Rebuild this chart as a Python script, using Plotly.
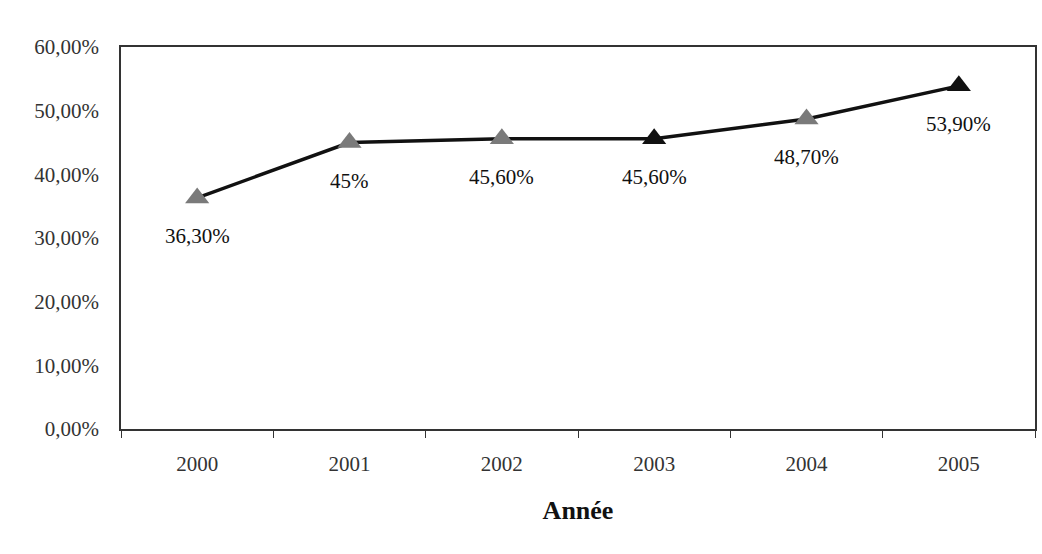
import plotly.graph_objects as go

years = ["2000", "2001", "2002", "2003", "2004", "2005"]
values = [36.3, 45.0, 45.6, 45.6, 48.7, 53.9]
labels = ["36,30%", "45%", "45,60%", "45,60%", "48,70%", "53,90%"]
marker_colors = ["#7a7a7a", "#7a7a7a", "#7a7a7a", "#111111", "#7a7a7a", "#111111"]
y_ticks = [0, 10, 20, 30, 40, 50, 60]
y_tick_labels = ["0,00%", "10,00%", "20,00%", "30,00%", "40,00%", "50,00%", "60,00%"]

serif = "Liberation Serif"

fig = go.Figure()
fig.add_trace(go.Scatter(
    x=years, y=values, mode="lines+markers",
    line=dict(color="#111111", width=3.5),
    marker=dict(symbol="triangle-up", size=21, color=marker_colors),
    showlegend=False, hoverinfo="skip",
))

for i, (v, lab) in enumerate(zip(values, labels)):
    fig.add_annotation(x=i, y=v, xref="x", yref="y", text=lab, showarrow=False, yshift=-38,
                       font=dict(family=serif, size=21, color="#111111"))

fig.update_layout(
    width=1042, height=554,
    margin=dict(l=121, r=5, t=47, b=125),
    paper_bgcolor="white", plot_bgcolor="white",
    font=dict(family=serif, color="#222222"),
)
fig.update_xaxes(
    type="category", range=[-0.5, 5.5], tickson="boundaries",
    ticks="outside", ticklen=7, tickcolor="#333333",
    showline=True, linecolor="#333333", linewidth=2, mirror=True,
    showgrid=False, tickfont=dict(family=serif, size=21, color="#333333"),
    ticklabelstandoff=15,
    title=dict(text="<b>Année</b>", font=dict(family=serif, size=26, color="#111111"), standoff=26),
)
fig.update_yaxes(
    range=[0, 60], tickvals=y_ticks, ticktext=y_tick_labels,
    ticks="", showline=True, linecolor="#333333", linewidth=1.5, mirror=True,
    showgrid=False, zeroline=False,
    tickfont=dict(family=serif, size=21, color="#333333"),
    ticklabelstandoff=16,
)

fig.write_html("out.html")
